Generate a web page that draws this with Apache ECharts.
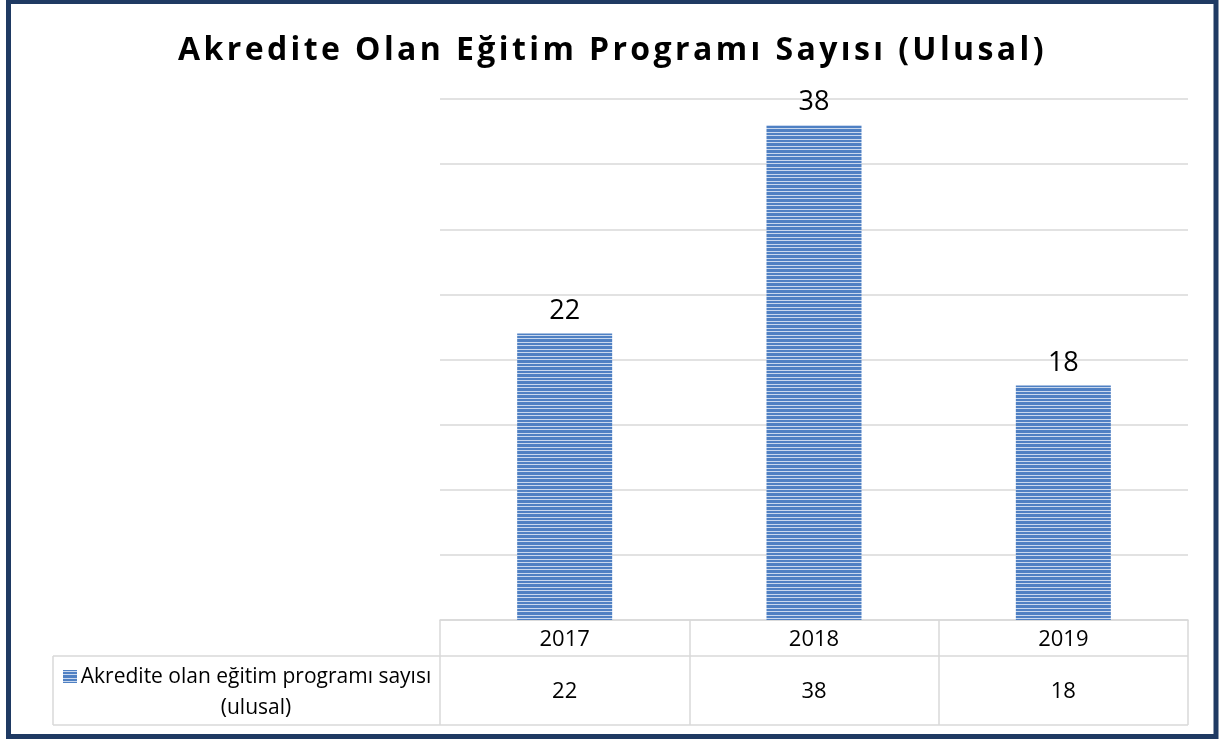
<!DOCTYPE html>
<html>
<head>
<meta charset="utf-8">
<script src="https://cdn.jsdelivr.net/npm/echarts@6/dist/echarts.min.js"></script>
<style>
  html, body { margin: 0; padding: 0; background: #fff; }
  #wrap { position: relative; width: 1219px; height: 740px; }
  #chart { position: absolute; left: 0; top: 0; width: 1219px; height: 740px; }
  #title {
    position: absolute; left: 0; top: 27px; width: 1219px; text-align: center;
    font-family: "Open Sans", sans-serif; font-weight: bold; font-size: 32px;
    letter-spacing: 3.4px; color: #000; line-height: 42px; padding-left: 3px;
  }
</style>
</head>
<body>
<div id="wrap">
  <div id="chart"></div>
  <div id="title">Akredite Olan Eğitim Programı Sayısı (Ulusal)</div>
</div>
<script>
  // veriler
  var years = ['2017', '2018', '2019'];
  var programCounts = [22, 38, 18];
  var seriesName = 'Akredite olan eğitim programı sayısı (ulusal)';
  var legendLines = ['Akredite olan eğitim programı sayısı', '(ulusal)'];

  // yatay çizgili doku
  function stripePattern() {
    var rows = ['b', 'b', 'l', 'b', 'b', 'b', 'l'];
    var c = document.createElement('canvas');
    c.width = 4;
    c.height = rows.length;
    var ctx = c.getContext('2d');
    rows.forEach(function (r, i) {
      ctx.fillStyle = r === 'b' ? '#4f80c3' : '#c9d8ee';
      ctx.fillRect(0, i, 4, 1);
    });
    return {image: c, repeat: 'repeat'};
  }

  var chart = echarts.init(document.getElementById('chart'));
  var gridColor = '#d9d9d9';

  chart.setOption({
    animation: false,
    grid: {left: 440, right: 31, top: 99, bottom: 120},
    xAxis: [{
      type: 'category',
      data: years,
      position: 'bottom',
      axisLine: {lineStyle: {color: gridColor, width: 1.5}},
      axisTick: {show: true, length: 105, lineStyle: {color: gridColor, width: 1.5}},
      axisLabel: {margin: 9, color: '#000', fontSize: 22, fontFamily: 'Open Sans'}
    }, {
      type: 'category',
      data: programCounts.map(String),
      position: 'bottom',
      offset: 0,
      axisLine: {show: false},
      axisTick: {show: false},
      axisLabel: {margin: 61, color: '#000', fontSize: 22, fontFamily: 'Open Sans'}
    }],
    yAxis: {
      type: 'value',
      min: 0,
      max: 40,
      interval: 5,
      axisLine: {show: false},
      axisTick: {show: false},
      axisLabel: {show: false},
      splitLine: {lineStyle: {color: gridColor, width: 1.5}}
    },
    series: [{
      name: seriesName,
      type: 'bar',
      data: programCounts,
      barWidth: 95,
      itemStyle: {color: stripePattern()},
      label: {
        show: true,
        position: 'top',
        distance: 9,
        color: '#000',
        fontSize: 27,
        fontFamily: 'Open Sans'
      }
    }],
    graphic: [
      // tablo çizgileri
      {type: 'line', shape: {x1: 53, y1: 656, x2: 1188, y2: 656}, style: {stroke: gridColor, lineWidth: 1.5}},
      {type: 'line', shape: {x1: 53, y1: 725, x2: 1188, y2: 725}, style: {stroke: gridColor, lineWidth: 1.5}},
      {type: 'line', shape: {x1: 53, y1: 656, x2: 53, y2: 725}, style: {stroke: gridColor, lineWidth: 1.5}},
      // lejant
      {type: 'rect', shape: {x: 63, y: 670, width: 14, height: 13}, style: {fill: stripePattern()}},
      {
        type: 'text', x: 256, y: 693,
        style: {
          text: legendLines.join('\n'), textAlign: 'center', textVerticalAlign: 'middle',
          fontSize: 21, lineHeight: 31, fontFamily: 'Open Sans', fill: '#000'
        }
      },
      // çerçeve
      {
        type: 'rect', shape: {x: 8.5, y: 1.5, width: 1207.5, height: 735},
        style: {fill: 'none', stroke: '#1f3a63', lineWidth: 5}
      }
    ]
  });
</script>
</body>
</html>
